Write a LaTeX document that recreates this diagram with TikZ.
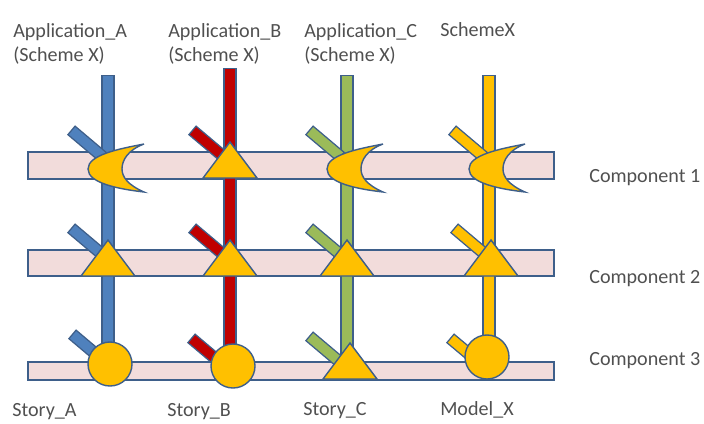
\documentclass[tikz,border=0pt]{standalone}
\usepackage{fontspec}
\setmainfont{Carlito}
\usetikzlibrary{positioning}
\definecolor{edgeblue}{HTML}{3E5F8A}
\definecolor{barpink}{HTML}{F2DCDB}
\definecolor{partyellow}{HTML}{FFC000}
\definecolor{lineblue}{HTML}{4F81BD}
\definecolor{linered}{HTML}{C00000}
\definecolor{linegreen}{HTML}{9BBB59}
\definecolor{textgrey}{HTML}{505050}
\tikzset{
    %Define style for the component bars
    bar/.style={
           draw=edgeblue,
           fill=barpink,
           line width=1pt},
    %Define style for the vertical lines
    stem/.style={
           draw=edgeblue, line width=0.33cm,
           postaction={draw=#1, line width=0.26cm,
                       shorten <=0.035cm, shorten >=0.035cm}},
    %Define style for the short slanted lines
    stub/.style={
           draw=edgeblue, line width=0.31cm,
           postaction={draw=#1, line width=0.24cm,
                       shorten <=0.035cm, shorten >=0.035cm}},
    % yellow parts sitting on the bars
    part/.style={
           draw=edgeblue,
           fill=partyellow,
           line width=1pt},
    moon/.pic={
           \path[part] (36,-21) .. controls (10,-16) and (-20,-10) .. (-20,4)
                 .. controls (-20,18) and (10,24) .. (36,27)
                 .. controls (20,20) and (14,12) .. (14,4)
                 .. controls (14,-5) and (20,-15) .. (36,-21) -- cycle;},
    tri/.pic={
           \path[part] (0,-36) -- (27,0) -- (-27,0) -- cycle;},
    % Define style for the labels
    lbl/.style={
           text=textgrey,
           inner sep=0pt,
           align=left,
           font=\fontsize{14.3pt}{17pt}\selectfont}
}

\begin{document}
\begin{tikzpicture}[x=0.025cm, y=-0.025cm]
\useasboundingbox (0,0) rectangle (704,423);

%components
\draw[bar] (28,152) rectangle (554,179);
\draw[bar] (28,250) rectangle (554,276);
\draw[bar] (28,362) rectangle (554,380);

%vertical lines
\draw[stem=lineblue] (108,75) -- (108,364);
\draw[stem=linered] (230,68) -- (230,366);
\draw[stem=linegreen] (347,75) -- (347,362);
\draw[stem=partyellow] (489,75) -- (489,357);

%slanted lines, row 1
\draw[stub=lineblue] (71,130) -- (103,157);
\draw[stub=linered] (192,130) -- (224,157);
\draw[stub=linegreen] (309,130) -- (341,157);
\draw[stub=partyellow] (452,130) -- (484,157);
%row 2
\draw[stub=lineblue] (71,228) -- (103,255);
\draw[stub=linered] (192,228) -- (224,255);
\draw[stub=linegreen] (309,228) -- (341,255);
\draw[stub=partyellow] (454,228) -- (486,255);
%row 3
\draw[stub=lineblue] (72,334) -- (104,361);
\draw[stub=linered] (191,338) -- (223,365);
\draw[stub=linegreen] (309,336) -- (341,363);
\draw[stub=partyellow] (450,338) -- (481,364);

%parts on component 1
\pic at (108,165) {moon};
\pic at (230,178) {tri};
\pic at (347,165) {moon};
\pic at (489,165) {moon};
%parts on component 2
\pic at (108,276) {tri};
\pic at (230,276) {tri};
\pic at (347,276) {tri};
\pic at (491,276) {tri};
%parts on component 3
\node[part, circle, minimum size=1.1cm, inner sep=0pt] (ballA) at (110,364) {};
\node[part, circle, minimum size=1.1cm, inner sep=0pt] (ballB) at (233,366) {};
\pic at (350,379) {tri};
\node[part, circle, minimum size=1.1cm, inner sep=0pt] (ballX) at (487,357) {};

%top labels
\node[lbl, anchor=north west] (appA) at (13,23) {Application\_A\\(Scheme X)};
\node[lbl, anchor=north west] (appB) at (168,23) {Application\_B\\(Scheme X)};
\node[lbl, anchor=north west] (appC) at (304,23) {Application\_C\\(Scheme X)};
\node[lbl, anchor=base west] (schemeX) at (440,36.5) {SchemeX};

%component labels
\node[lbl, anchor=base west] (comp1) at (589,182) {Component 1};
\node[lbl, anchor=base west] (comp2) at (589,283) {Component 2};
\node[lbl, anchor=base west] (comp3) at (589,365) {Component 3};

%bottom labels
\node[lbl, anchor=base west] (storyA) at (12,416) {Story\_A};
\node[lbl, anchor=base west] (storyB) at (167,416) {Story\_B};
\node[lbl, anchor=base west] (storyC) at (303,415) {Story\_C};
\node[lbl, anchor=base west] (modelX) at (440,415) {Model\_X};
\end{tikzpicture}
\end{document}
